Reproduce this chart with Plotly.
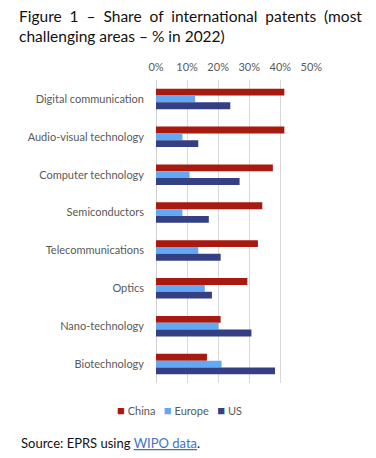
import plotly.graph_objects as go

categories = ["Digital communication", "Audio-visual technology", "Computer technology",
              "Semiconductors", "Telecommunications", "Optics", "Nano-technology", "Biotechnology"]
china = [41.3, 41.3, 37.6, 34.2, 32.8, 29.4, 20.8, 16.4]
europe = [12.6, 8.5, 10.8, 8.5, 13.6, 15.7, 20.1, 21.1]
us = [23.9, 13.6, 26.9, 17.0, 20.8, 18.0, 30.7, 38.3]
series_names = ["China", "Europe", "US"]
colors = ["#a8190f", "#62a8f4", "#353f84"]
x_ticks = [0, 10, 20, 30, 40, 50]
x_ticktext = [f"{v}%" for v in x_ticks]

FONT = "Lato"
W, H = 376, 458
OFF = 8  # page body margin offset
L, T = 156 - OFF, 80 - OFF
R = W - (312 - OFF)
B = H - (383 - OFF)
PW, PH = W - L - R, H - T - B

fig = go.Figure()
for name, vals, col in zip(series_names, [china, europe, us], colors):
    fig.add_trace(go.Bar(y=categories, x=vals, name=name, orientation="h",
                         marker=dict(color=col, line=dict(width=0))))

fig.update_layout(
    width=W, height=H,
    paper_bgcolor="white", plot_bgcolor="white",
    barmode="group", bargap=0.46, bargroupgap=0,
    showlegend=False,
    margin=dict(l=L, r=R, t=T, b=B),
    font=dict(family=FONT, color="#595959", size=11),
    xaxis=dict(side="top", range=[0, 50.2], tickvals=x_ticks, ticktext=x_ticktext,
               showgrid=True, gridcolor="#d9d9d9", gridwidth=1, automargin=False,
               zeroline=True, zerolinecolor="#d0d0d0", zerolinewidth=1,
               showline=False, ticks="", ticklabelstandoff=6,
               tickfont=dict(size=11, color="#595959")),
    yaxis=dict(autorange="reversed", showgrid=False, ticks="", showline=False, automargin=False,
               ticklabelstandoff=11, tickfont=dict(size=11, color="#595959")),
)

def px(xp):
    return (xp - OFF - L) / PW

def py(yp):
    return (H - B - (yp - OFF)) / PH

# title (first line widened to mimic justified text)
line1 = "Figure 1 – Share of international patents (most".replace(" ", " \u00a0")
fig.add_annotation(text=line1 + "<br>challenging areas – % in 2022)",
                   xref="paper", yref="paper", x=px(17), y=py(5), xanchor="left", yanchor="top",
                   align="left", showarrow=False,
                   font=dict(family=FONT, size=15.5, color="#111111"))

# legend built as annotation from series names/colors
leg = "   ".join(f"<span style='color:{c};font-size:13px'>■</span> {n}" for n, c in zip(series_names, colors))
fig.add_annotation(text=leg, xref="paper", yref="paper", x=px(179), y=py(410),
                   xanchor="center", yanchor="middle", showarrow=False,
                   font=dict(family=FONT, size=11, color="#595959"))
fig.add_annotation(text="Source: EPRS using <a href='https://www.wipo.int'><span style='color:#4472c4;text-decoration:underline'>WIPO data</span></a>.",
                   xref="paper", yref="paper", x=px(19), y=py(443), showarrow=False,
                   xanchor="left", yanchor="middle",
                   font=dict(family=FONT, size=13, color="#111111"))

fig.write_html("out.html")
